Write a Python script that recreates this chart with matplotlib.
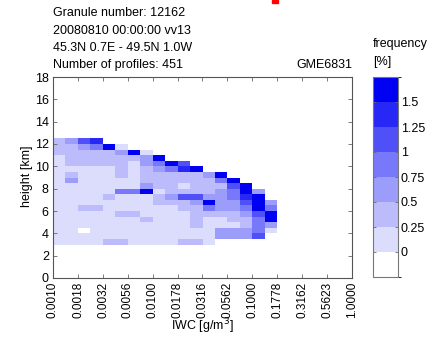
import numpy as np
import matplotlib
matplotlib.use("Agg")
import matplotlib.pyplot as plt
from matplotlib.colors import ListedColormap, BoundaryNorm
from matplotlib.patches import Rectangle

n = np.nan

# IWC bins: 1/8 decade from 0.001 to ~0.178 g/m3 (18 bins)
iwc_edges = np.logspace(-3, -0.75, 19)
# height bins: 0.5 km from 12.5 km down to 3.0 km (19 rows, top first)
height_edges = np.linspace(12.5, 3.0, 20)

# frequency [%], rows from top (12.0-12.5 km) to bottom (3.0-3.5 km)
freq = [
    [0.4, 0.6, 1.1, 1.4, n, n, n, n, n, n, n, n, n, n, n, n, n, n],
    [0.4, 0.4, 0.6, 0.9, 1.6, 0.1, n, n, n, n, n, n, n, n, n, n, n, n],
    [0.4, 0.4, 0.4, 0.4, 0.4, 0.6, 1.6, 0.1, n, n, n, n, n, n, n, n, n, n],
    [0.1, 0.4, 0.4, 0.4, 0.4, 0.4, 0.4, 0.6, 1.6, n, n, n, n, n, n, n, n, n],
    [0.1, 0.4, 0.4, 0.4, 0.4, 0.4, 0.1, 0.6, 0.9, 1.6, 1.1, n, n, n, n, n, n, n],
    [0.1, 0.1, 0.1, 0.1, 0.1, 0.4, 0.1, 0.4, 0.6, 0.9, 1.4, 1.6, n, n, n, n, n, n],
    [0.1, 0.4, 0.1, 0.1, 0.1, 0.4, 0.1, 0.4, 0.4, 0.4, 0.4, 0.4, 0.6, 1.6, n, n, n, n],
    [0.1, 0.6, 0.1, 0.1, 0.1, 0.1, 0.1, 0.4, 0.4, 0.4, 0.4, 0.4, 0.4, 0.9, 1.6, n, n, n],
    [0.1, 0.1, 0.1, 0.1, 0.1, 0.1, 0.1, 0.6, 0.4, 0.4, 0.1, 0.4, 0.4, 0.4, 1.1, 1.6, n, n],
    [0.1, 0.1, 0.1, 0.1, 0.1, 0.9, 0.9, 1.6, 0.1, 0.4, 0.4, 0.4, 0.4, 0.6, 0.9, 1.6, 0.6, n],
    [0.1, 0.1, 0.1, 0.1, 0.4, 0.1, 0.1, 0.1, 0.4, 0.6, 1.1, 1.1, 0.6, 0.6, 0.9, 1.4, 1.6, n],
    [0.1, 0.1, 0.1, 0.1, 0.1, 0.1, 0.1, 0.1, 0.4, 0.4, 0.4, 0.6, 1.6, 0.6, 0.6, 1.1, 1.6, 0.6],
    [0.1, 0.1, 0.4, 0.4, 0.1, 0.1, 0.1, 0.1, 0.1, 0.1, 0.4, 0.4, 0.9, 0.6, 0.6, 0.9, 1.6, 0.9],
    [0.1, 0.1, 0.1, 0.1, 0.1, 0.4, 0.4, 0.1, 0.1, 0.1, 0.1, 0.4, 0.4, 0.4, 0.4, 0.6, 1.1, 1.6],
    [0.1, 0.1, 0.1, 0.1, 0.1, 0.1, 0.1, 0.4, 0.1, 0.1, 0.1, 0.4, 0.1, 0.1, 0.4, 0.4, 0.9, 1.6],
    [0.1, 0.1, 0.1, 0.1, 0.1, 0.1, 0.1, 0.1, 0.1, 0.1, 0.1, 0.4, 0.1, 0.1, 0.1, 0.4, 0.9, 0.6],
    [0.1, 0.1, n, 0.1, 0.1, 0.1, 0.1, 0.1, 0.1, 0.1, 0.1, 0.1, 0.1, 0.6, 0.6, 0.6, 0.9, 0.1],
    [0.1, 0.1, 0.1, 0.1, 0.1, 0.1, 0.1, 0.1, 0.1, 0.1, 0.1, 0.1, 0.1, 0.6, 0.6, 0.6, 1.1, n],
    [0.1, 0.1, 0.1, 0.1, 0.4, 0.4, 0.1, 0.1, 0.1, 0.1, 0.4, 0.4, 0.1, n, n, n, n, n],
]

xtick_vals = [0.0010, 0.0018, 0.0032, 0.0056, 0.0100, 0.0178, 0.0316,
              0.0562, 0.1000, 0.1778, 0.3162, 0.5623, 1.0000]
ytick_vals = [0, 2, 4, 6, 8, 10, 12, 14, 16, 18]
cbar_ticks = [0, 0.25, 0.5, 0.75, 1, 1.25, 1.5]
cbar_labels = ['0', '0.25', '0.5', '0.75', '1', '1.25', '1.5']

header = ["Granule number: 12162", "20080810 00:00:00 vv13",
          "45.3N 0.7E - 49.5N 1.0W", "Number of profiles: 451"]

colors = ['#ffffff', '#dcdcfd', '#bcbcfc', '#9c9cfb', '#7878fa',
          '#5050f8', '#2828f6', '#0000f2']
bounds = [-0.25, 0, 0.25, 0.5, 0.75, 1.0, 1.25, 1.5, 1.75]
cmap = ListedColormap(colors)
cmap.set_bad('white')
norm = BoundaryNorm(bounds, cmap.N)

plt.rcParams['font.family'] = ['Liberation Sans', 'DejaVu Sans']
fs = 9
W, H = 441, 337
fig = plt.figure(figsize=(W / 100, H / 100), dpi=100)

def fx(px):
    return px / W

def fy(py):
    return 1 - py / H

ax = fig.add_axes([fx(53), fy(278), fx(352) - fx(53), fy(77) - fy(278)])
data = np.ma.masked_invalid(np.array(freq))
mesh = ax.pcolormesh(iwc_edges, height_edges, data, cmap=cmap, norm=norm)
ax.set_xscale('log')
ax.set_xlim(1e-3, 1.0)
ax.set_ylim(0, 18)
ax.set_xticks(xtick_vals)
ax.set_xticklabels(['%.4f' % v for v in xtick_vals], rotation=90, fontsize=8.5)
ax.xaxis.set_minor_locator(matplotlib.ticker.NullLocator())
ax.set_yticks(ytick_vals)
ax.set_yticklabels([str(v) for v in ytick_vals], fontsize=fs)
ax.tick_params(which='both', direction='in', length=3, width=0.6,
               top=True, right=True, pad=3, color='#666666')
ax.tick_params(axis='x', pad=2.5)
for s in ax.spines.values():
    s.set_color('#555555')
    s.set_linewidth(0.8)

fig.text(fx(202), fy(336), 'IWC [g/m$^3$]', ha='center', va='bottom', fontsize=fs)
fig.text(fx(27), fy(176), 'height [km]', ha='center', va='center',
         rotation=90, fontsize=fs)

for k, line in enumerate(header):
    fig.text(fx(53), fy(13.5 + 17.3 * k), line, ha='left', va='center', fontsize=fs)
fig.text(fx(352), fy(65), 'GME6831', ha='right', va='center', fontsize=fs)

cax = fig.add_axes([fx(373), fy(277), fx(25), fy(77) - fy(277)])
cb = fig.colorbar(mesh, cax=cax, ticks=cbar_ticks)
cb.set_ticklabels(cbar_labels)
cb.ax.tick_params(labelsize=fs, direction='in', length=2, width=0.6,
                  left=True, right=True, color='#666666', pad=2)
cb.outline.set_edgecolor('#777777')
cb.outline.set_linewidth(0.8)
fig.text(fx(373), fy(44.5), 'frequency', ha='left', va='center', fontsize=fs)
fig.text(fx(373), fy(62), '[%]', ha='left', va='center', fontsize=fs)

fig.patches.append(Rectangle((fx(272), fy(3)), fx(6), 3 / H, color='red',
                             transform=fig.transFigure, figure=fig))

fig.savefig('out.png', dpi=100)
